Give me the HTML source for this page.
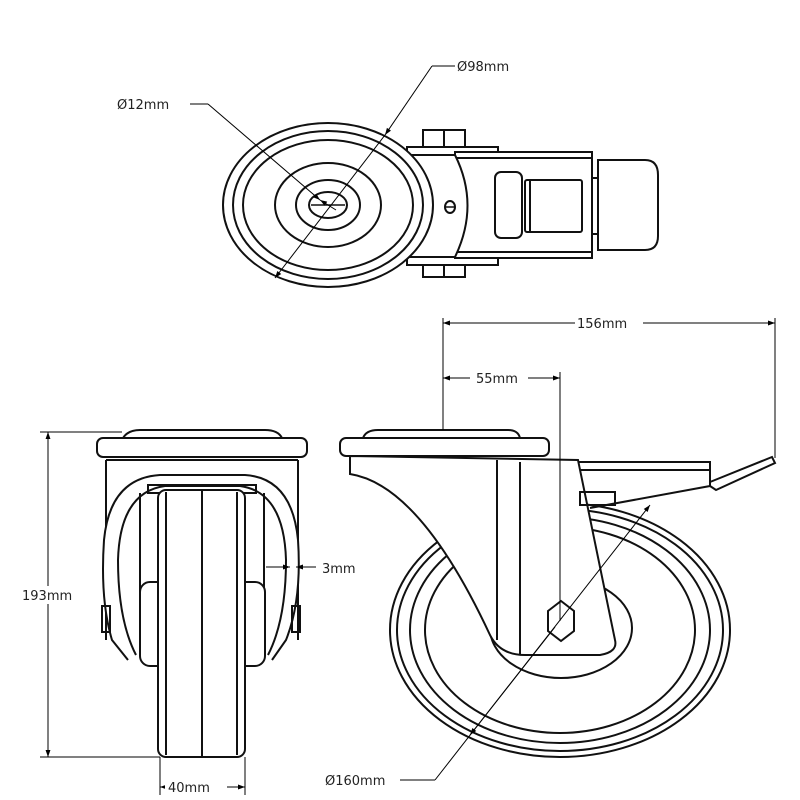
<!DOCTYPE html>
<html><head><style>
html,body{margin:0;padding:0;background:#fff;}
svg{display:block;}
text{font-family:"DejaVu Sans","Liberation Sans",sans-serif;font-size:13px;fill:#222;}
</style></head><body>
<svg width="800" height="800" viewBox="0 0 800 800" xmlns="http://www.w3.org/2000/svg">
<defs>
<marker id="a" viewBox="0 0 10 10" refX="10" refY="5" markerWidth="10" markerHeight="7" orient="auto-start-reverse"><path d="M0,1.5 L10,5 L0,8.5 z" fill="#000"/></marker>
</defs>
<g fill="none" stroke="#111" stroke-width="2">
<!-- TOP VIEW -->
<rect x="423" y="130" width="42" height="17"/><line x1="444" y1="130" x2="444" y2="147"/>
<rect x="423" y="264" width="42" height="13"/><line x1="444" y1="264" x2="444" y2="277"/>
<rect x="407" y="147" width="91" height="8" fill="#fff"/>
<rect x="407" y="257" width="91" height="8" fill="#fff"/>
<rect x="455" y="152" width="137" height="106" fill="#fff"/>
<line x1="455" y1="158" x2="592" y2="158"/><line x1="455" y1="252" x2="592" y2="252"/>
<path d="M407,155 L455,155 Q480,205 455,257 L407,257 Z" fill="#fff"/>
<ellipse cx="450" cy="207" rx="5" ry="6"/><line x1="445" y1="207" x2="455" y2="207" stroke-width="1.5"/>
<rect x="495" y="172" width="27" height="66" rx="6" fill="#fff"/>
<rect x="525" y="180" width="57" height="52" rx="2"/><line x1="530" y1="180" x2="530" y2="232"/>
<rect x="592" y="178" width="7" height="56"/>
<path d="M598,160 L645,160 Q658,160 658,175 L658,236 Q658,250 645,250 L598,250 Z" fill="#fff"/>
<ellipse cx="328" cy="205" rx="105" ry="82" fill="#fff"/>
<ellipse cx="328" cy="205" rx="95" ry="74"/>
<ellipse cx="328" cy="205" rx="85" ry="65"/>
<ellipse cx="328" cy="205" rx="53" ry="42"/>
<ellipse cx="328" cy="205" rx="32" ry="25"/>
<ellipse cx="328" cy="205" rx="19" ry="13"/>
<line x1="311" y1="205" x2="345" y2="205" stroke-width="1.5"/>

<!-- FRONT VIEW (left) -->
<path d="M123,438 Q128,430 140,430 L265,430 Q278,430 282,438"/>
<rect x="97" y="438" width="210" height="19" rx="6" fill="#fff"/>
<line x1="106" y1="460" x2="298" y2="460"/>
<path d="M106,460 L106,640 M298,460 L298,640"/>
<path d="M128,660 L112,640 Q100,600 104,540 Q110,478 160,475 L245,475 Q292,478 298,540 Q302,600 286,640 L272,660" fill="#fff"/>
<path d="M136,655 Q118,620 118,560 Q120,492 165,486 L240,486 Q284,492 286,560 Q286,620 268,655"/>
<rect x="148" y="485" width="108" height="8"/>
<line x1="140" y1="493" x2="140" y2="630"/><line x1="264" y1="493" x2="264" y2="630"/>
<rect x="140" y="582" width="125" height="84" rx="10" fill="#fff"/>
<rect x="158" y="490" width="87" height="267" rx="8" fill="#fff"/>
<line x1="166" y1="492" x2="166" y2="755"/><line x1="237" y1="492" x2="237" y2="755"/>
<line x1="202" y1="490" x2="202" y2="757"/>
<rect x="102" y="606" width="8" height="26"/><rect x="292" y="606" width="8" height="26"/>

<!-- SIDE VIEW (right) -->
<ellipse cx="560" cy="630" rx="170" ry="127" fill="#fff"/>
<ellipse cx="560" cy="630" rx="163" ry="121"/>
<ellipse cx="560" cy="630" rx="150" ry="113"/>
<ellipse cx="560" cy="630" rx="135" ry="103"/>
<ellipse cx="561" cy="628" rx="71" ry="50"/>
<path d="M363,438 Q366,430 378,430 L508,430 Q518,430 520,438"/>
<rect x="340" y="438" width="209" height="18" rx="6" fill="#fff"/>
<line x1="350" y1="460" x2="540" y2="460"/>
<path d="M350,456 L350,474 Q420,485 490,635 Q500,655 525,655 L600,655 Q618,652 615,640 L578,460 Z" fill="#fff"/>
<line x1="497" y1="460" x2="497" y2="640"/><line x1="520" y1="462" x2="520" y2="655"/>
<path d="M578,462 L710,462 L710,486 L590,508"/>
<line x1="580" y1="470" x2="710" y2="470"/>
<rect x="580" y="492" width="35" height="13"/>
<path d="M710,486 L716,490 L775,463 L772,457 L710,482"/>
<path d="M548,611 L561,601 L574,611 L574,631 L561,641 L548,631 Z" fill="#fff"/>
</g>

<g fill="none" stroke="#000" stroke-width="1">
<line x1="190" y1="104" x2="208" y2="104"/>
<line x1="208" y1="104" x2="320" y2="200" marker-end="url(#a)"/>
<line x1="336" y1="210" x2="320" y2="200" marker-end="url(#a)"/>
<line x1="455" y1="66" x2="432" y2="66"/>
<line x1="432" y1="66" x2="385" y2="135" marker-end="url(#a)"/>
<line x1="385" y1="135" x2="275" y2="278" marker-end="url(#a)"/>
<line x1="443" y1="318" x2="443" y2="430"/><line x1="775" y1="318" x2="775" y2="458"/>
<line x1="443" y1="323" x2="775" y2="323" marker-start="url(#a)" marker-end="url(#a)"/>
<line x1="560" y1="372" x2="560" y2="621"/>
<line x1="443" y1="378" x2="560" y2="378" marker-start="url(#a)" marker-end="url(#a)"/>
<line x1="400" y1="780" x2="435" y2="780"/>
<line x1="435" y1="780" x2="650" y2="505" marker-end="url(#a)"/>
<line x1="555" y1="627" x2="470" y2="735" marker-end="url(#a)"/>
<line x1="40" y1="432" x2="122" y2="432"/><line x1="40" y1="757" x2="160" y2="757"/>
<line x1="48" y1="432" x2="48" y2="757" marker-start="url(#a)" marker-end="url(#a)"/>
<line x1="160" y1="757" x2="160" y2="795"/><line x1="245" y1="757" x2="245" y2="795"/>
<line x1="160" y1="787" x2="245" y2="787" marker-start="url(#a)" marker-end="url(#a)"/>
<line x1="266" y1="567" x2="290" y2="567" marker-end="url(#a)"/>
<line x1="316" y1="567" x2="296" y2="567" marker-end="url(#a)"/>
</g>
<g fill="#fff">
<rect x="20" y="586" width="60" height="18"/>
<rect x="165" y="779" width="62" height="16"/>
<rect x="470" y="370" width="58" height="16"/>
<rect x="575" y="315" width="68" height="16"/>
</g>
<text x="117" y="109">Ø12mm</text>
<text x="457" y="71">Ø98mm</text>
<text x="577" y="328">156mm</text>
<text x="476" y="383">55mm</text>
<text x="22" y="600">193mm</text>
<text x="322" y="573">3mm</text>
<text x="168" y="792">40mm</text>
<text x="325" y="785">Ø160mm</text>
</svg>
</body></html>
